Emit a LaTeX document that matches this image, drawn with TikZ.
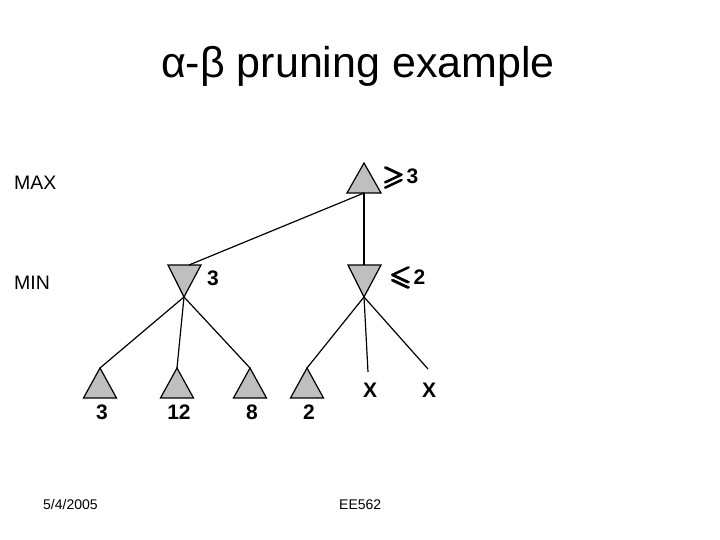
\documentclass[tikz,border=0pt]{standalone}
\usepackage{amssymb}
\usepackage{fontspec}
\setmainfont{Liberation Sans}
\newcommand{\fatsym}[1]{\rlap{#1}\rlap{\hspace{0.8pt}#1}\rlap{\hspace{1.6pt}#1}\rlap{\raisebox{0.7pt}{#1}}\rlap{\hspace{0.8pt}\raisebox{0.7pt}{#1}}\rlap{\raisebox{-0.6pt}{#1}}\rlap{\hspace{0.8pt}\raisebox{-0.6pt}{#1}}\hspace{1.6pt}\raisebox{0.7pt}{#1}}
\newcommand{\bgeq}{\fatsym{\raisebox{-0.8pt}{\scalebox{1.3}{$\geqslant$}}}}
\newcommand{\bleq}{\fatsym{\raisebox{-0.8pt}{\scalebox{1.3}{$\leqslant$}}}}
\begin{document}
\begin{tikzpicture}[x=1pt,y=-1pt,
  tri/.style={draw=black,fill=black!25,line width=1.2pt,line join=miter},
  edge/.style={draw=black,line width=1.2pt},
  lbl/.style={font=\fontsize{21}{21}\selectfont\bfseries,inner sep=0pt},
  side/.style={font=\fontsize{19.5}{20}\selectfont,inner sep=0pt,anchor=west},
  foot/.style={font=\fontsize{14}{14}\selectfont,inner sep=0pt,anchor=base west}]
\useasboundingbox (0,0) rectangle (720,540);
% title
\node[font=\fontsize{43}{43}\selectfont,inner sep=0pt,anchor=base] (title) at (358,78) {α-β pruning example};
% side labels
\node[side] (max) at (14,183) {MAX};
\node[side] (min) at (14,283) {MIN};
% root (up triangle)
\draw[tri] (364,163) -- (347,193) -- (381,193) -- cycle;
\coordinate (root) at (364,193);
\node[lbl,anchor=base west] (rootl) at (382,184) {\bgeq\hspace{1.5pt}3};
% MIN nodes (down triangles)
\draw[tri] (168,265) -- (201,265) -- (184,297) -- cycle;
\coordinate (minL) at (189,265);
\coordinate (minLb) at (184,297);
\node[lbl,anchor=west] (minLl) at (207,278) {3};
\draw[tri] (348,265) -- (381,265) -- (364,297) -- cycle;
\coordinate (minR) at (364,265);
\coordinate (minRb) at (364,297);
\node[lbl,anchor=base west] (minRl) at (389,284) {\bleq\hspace{1.5pt}2};
% leaves
\foreach \n/\cx/\v in {a/100/3,b/177/12,c/250/8,d/307/2}{
  \draw[tri] (\cx,368) -- (\cx-16.5,398) -- (\cx+16.5,398) -- cycle;
  \coordinate (leaf\n) at (\cx,368);
  \node[lbl] (val\n) at (\cx+2,412) {\v};
}
\coordinate (xa) at (368,372);
\coordinate (xb) at (428,369);
\node[lbl] (xla) at (370,390) {X};
\node[lbl] (xlb) at (429,390) {X};
% connectors
\draw[edge] (root) -- (minR);
\draw[edge] (root) -- (minL);
\draw[edge] (minLb) -- (leafa);
\draw[edge] (minLb) -- (leafb);
\draw[edge] (minLb) -- (leafc);
\draw[edge] (minRb) -- (leafd);
\draw[edge] (minRb) -- (xa);
\draw[edge] (minRb) -- (xb);
% footer
\node[foot] (date) at (43,509) {5/4/2005};
\node[foot] (course) at (339,509) {EE562};
\end{tikzpicture}
\end{document}
